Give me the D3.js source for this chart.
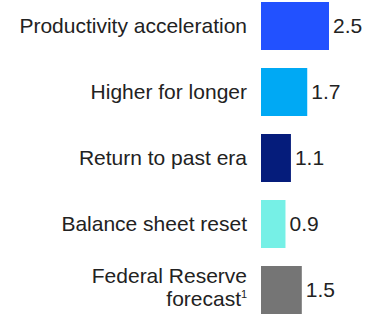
<!DOCTYPE html>
<html>
<head>
<meta charset="utf-8">
<script src="https://cdn.jsdelivr.net/npm/d3@7"></script>
<style>
  html, body { margin: 0; padding: 0; background: #fff; }
  svg { display: block; }
  text { font-family: "Liberation Sans", Arial, Helvetica, sans-serif; fill: #222; }
</style>
</head>
<body>
<svg id="chart" width="374" height="316"></svg>
<script>
const categories = ["Productivity acceleration", "Higher for longer", "Return to past era", "Balance sheet reset", "Federal Reserve forecast"];
const labelLines = [["Productivity acceleration"], ["Higher for longer"], ["Return to past era"], ["Balance sheet reset"], ["Federal Reserve", "forecast"]];
const footnotes = ["", "", "", "", "1"];
const values = [2.5, 1.7, 1.1, 0.9, 1.5];
const valueLabels = ["2.5", "1.7", "1.1", "0.9", "1.5"];
const colors = ["#2251FF", "#00A9F4", "#051C7B", "#76F0E6", "#757575"];

const svg = d3.select("#chart");
const barX0 = 261;
const x = d3.scaleLinear().domain([0, 2.5]).range([barX0, barX0 + 68]);
const y = d3.scaleBand().domain(categories).range([2, 314]).paddingInner(18 / 66).paddingOuter(0);

const g = svg.append("g");
const rows = g.selectAll("g.row").data(categories).join("g").attr("class", "row");

rows.append("rect")
  .attr("x", x(0))
  .attr("y", d => y(d))
  .attr("width", (d, i) => x(values[i]) - x(0))
  .attr("height", y.bandwidth())
  .attr("fill", (d, i) => colors[i]);

rows.append("text")
  .attr("x", (d, i) => x(values[i]) + 4)
  .attr("y", d => y(d) + y.bandwidth() / 2 + 7)
  .attr("font-size", 21)
  .text((d, i) => valueLabels[i]);

rows.each(function(d, i) {
  const lines = labelLines[i];
  const cy = y(d) + y.bandwidth() / 2;
  const t = d3.select(this).append("text")
    .attr("text-anchor", "end")
    .attr("font-size", 21);
  if (lines.length === 1) {
    t.append("tspan").attr("x", 247).attr("y", cy + 7).text(lines[0]);
  } else {
    lines.forEach((ln, k) => {
      const ts = t.append("tspan").attr("x", k === lines.length - 1 && footnotes[i] ? 241 : 247)
        .attr("y", cy - 7.5 + k * 23).text(ln);
    });
    if (footnotes[i]) {
      t.append("tspan").attr("font-size", 11).attr("dy", -8).attr("x", 247).text(footnotes[i]);
    }
  }
});
</script>
</body>
</html>
